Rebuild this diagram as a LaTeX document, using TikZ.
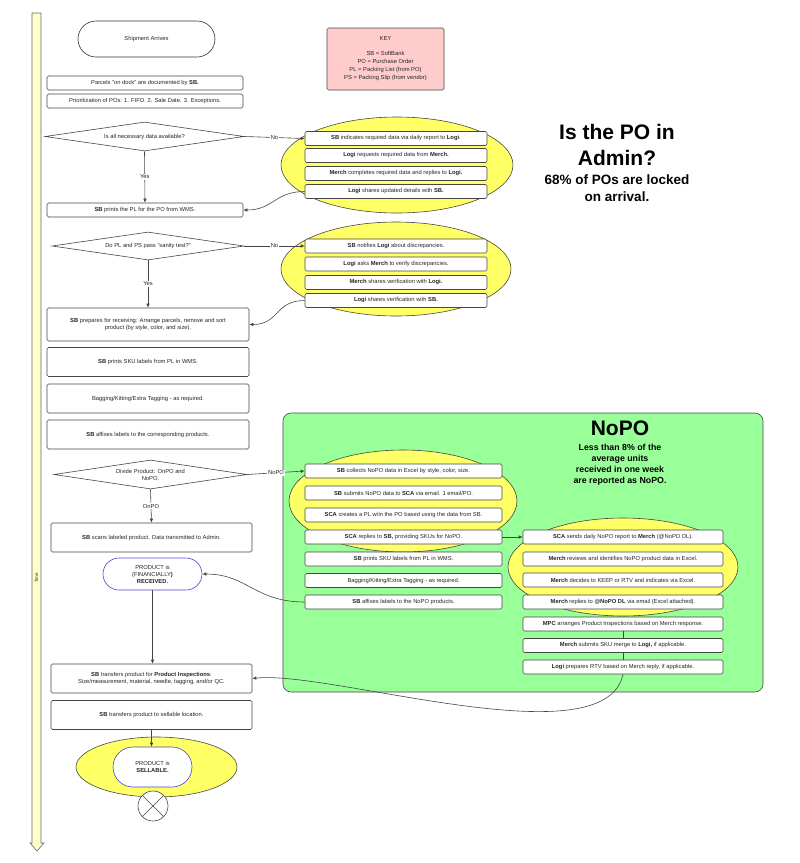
\documentclass[tikz,border=0pt]{standalone}
\usepackage{fontspec}
\setmainfont{Liberation Sans}
\usetikzlibrary{shapes.geometric,shapes.misc,arrows.meta}
\definecolor{keypink}{RGB}{255,204,204}
\definecolor{blobyellow}{RGB}{255,255,102}
\definecolor{nopogreen}{RGB}{153,255,153}
\definecolor{timebar}{RGB}{255,255,204}
\definecolor{edgegray}{RGB}{70,70,70}
\definecolor{termblue}{RGB}{70,70,210}

\begin{document}
\begin{tikzpicture}[x=1pt,y=-1pt,>={Latex[length=4pt,width=3.5pt]},
	every node/.style={font=\fontsize{5.8}{7}\selectfont, text=black!85},
	stepbox/.style={draw=edgegray, fill=white, rounded corners=1.5pt, line width=0.6pt, align=center, inner sep=1pt},
	topbox/.style={stepbox, minimum width=196, minimum height=14},
	tallbox/.style={stepbox, minimum width=202, minimum height=29},
	lowbox/.style={stepbox, minimum width=201, minimum height=29},
	blobbox/.style={stepbox, minimum width=182, minimum height=14},
	nopobox/.style={stepbox, minimum width=197, minimum height=14},
	merchbox/.style={stepbox, minimum width=200, minimum height=14},
	decision/.style={draw=edgegray, fill=white, diamond, aspect=6.9, line width=0.6pt, align=center, inner sep=0pt},
	terminal/.style={draw=#1, fill=white, rounded rectangle, line width=0.6pt, align=center, inner sep=1pt},
	blob/.style={draw=edgegray, fill=blobyellow, line width=0.6pt},
	wire/.style={draw=edgegray, line width=0.6pt},
	answer/.style={fill=white, inner sep=1pt}]
	\useasboundingbox (0,0) rectangle (800,863);

	\draw [draw=black!60, fill=timebar, line width=0.6pt] (32,13) -- (41,13) -- (41,843) -- (44,843) -- (37,851) -- (30,843) -- (32,843) -- cycle;
	\node [rotate=90, font=\fontsize{4.5}{5}\selectfont] (time) at (36.5,578) {Time};

	\draw [draw=edgegray, fill=nopogreen, line width=0.6pt, rounded corners=8pt] (283,413) rectangle (763,692);
	\draw [blob] (397,165) ellipse [x radius=116, y radius=48];
	\draw [blob] (396,269) ellipse [x radius=115, y radius=47];
	\draw [blob] (403,501) ellipse [x radius=114, y radius=51];
	\draw [blob] (623,567) ellipse [x radius=115, y radius=49];
	\draw [blob] (156.5,767) ellipse [x radius=80.5, y radius=30];

	\node [terminal=black!80, minimum width=139, minimum height=36] (ship) at (146.5,39) {Shipment Arrives};
	\node [draw=edgegray, fill=keypink, rounded corners=1.5pt, line width=0.6pt, minimum width=117, minimum height=62, align=center, font=\fontsize{5.8}{8.3}\selectfont] (key) at (385.5,59) {KEY\\[6pt]SB = SoftBank\\PO = Purchase Order\\PL = Packing List (from PO)\\PS = Packing Slip (from vendor)};
	\node [align=center, font=\fontsize{21}{26}\selectfont\bfseries, text=black] (admin) at (617,145) {Is the PO in\\Admin?};
	\node [align=center, font=\fontsize{13.5}{17}\selectfont\bfseries, text=black] (locked) at (617,188.5) {68\% of POs are locked\\on arrival.};
	\node [font=\fontsize{21}{26}\selectfont\bfseries, text=black] (nopo) at (620,428) {NoPO};
	\node [align=center, font=\fontsize{8.8}{11}\selectfont\bfseries, text=black] (share) at (620,464.5) {Less than 8\% of the\\average units\\received in one week\\are reported as NoPO.};

	\node [topbox] (parcels) at (145,83) {Parcels "on dock" are documented by \textbf{SB.}};
	\node [topbox] (prio) at (145,101) {Prioritization of POs: 1. FIFO. 2. Sale Date. 3. Exceptions.};
	\node [decision, minimum width=199, minimum height=29] (data) at (144.5,136.5) {Is all necessary data available?};
	\node [topbox] (pl) at (145,210) {\textbf{SB} prints the PL for the PO from WMS.};

	\node [blobbox] (ask1) at (396,138.5) {\textbf{SB} indicates required data via daily report to \textbf{Logi}.};
	\node [blobbox] (ask2) at (396,155.5) {\textbf{Logi} requests required data from \textbf{Merch.}};
	\node [blobbox] (ask3) at (396,173.5) {\textbf{Merch} completes required data and replies to \textbf{Logi.}};
	\node [blobbox] (ask4) at (396,191.5) {\textbf{Logi} shares updated details with \textbf{SB.}};

	\node [decision, minimum width=192, minimum height=28] (sanity) at (148,246) {Do PL and PS pass "sanity test?"};
	\node [blobbox] (chk1) at (396,246) {\textbf{SB} notifies \textbf{Logi} about discrepancies.};
	\node [blobbox] (chk2) at (396,264) {\textbf{Logi} asks \textbf{Merch} to verify discrepancies.};
	\node [blobbox] (chk3) at (396,282.5) {\textbf{Merch} shares verification with \textbf{Logi.}};
	\node [blobbox] (chk4) at (396,300.5) {\textbf{Logi} shares verification with \textbf{SB.}};

	\node [tallbox, minimum height=33] (prep) at (148,324.5) {\textbf{SB} prepares for receiving: Arrange parcels, remove and sort\\product (by style, color, and size).};
	\node [tallbox] (sku) at (148,362) {\textbf{SB} prints SKU labels from PL in WMS.};
	\node [tallbox] (bag) at (148,398.5) {Bagging/Kitting/Extra Tagging - as required.};
	\node [tallbox] (affix) at (148,434.5) {\textbf{SB} affixes labels to the corresponding products.};

	\node [decision, minimum width=193, minimum height=29] (divide) at (150.5,474.5) {Divide Product: OnPO and\\NoPO.};
	\node [lowbox] (scan) at (151.5,537.5) {\textbf{SB} scans labeled product. Data transmitted to Admin.};
	\node [terminal=termblue, minimum width=101, minimum height=32] (recv) at (152.5,574) {PRODUCT is\\(FINANCIALLY\textbf{)}\\\textbf{RECEIVED.}};
	\node [lowbox] (insp) at (151.5,678.5) {\textbf{SB} transfers product for \textbf{Product Inspections}:\\Size/measurement, material, needle, tagging, and/or QC.};
	\node [lowbox] (move) at (151.5,715) {\textbf{SB} transfers product to sellable location.};
	\node [terminal=termblue, minimum width=81, minimum height=40] (sell) at (152.5,767) {PRODUCT is\\\textbf{SELLABLE.}};
	\node [draw=edgegray, fill=white, circle, line width=0.6pt, minimum size=30] (stop) at (153,806) {};
	\draw [wire] (stop.north west) -- (stop.south east);
	\draw [wire] (stop.north east) -- (stop.south west);

	\node [nopobox] (np1) at (403.5,471) {\textbf{SB} collects NoPO data in Excel by style, color, size.};
	\node [nopobox] (np2) at (403.5,493) {\textbf{SB} submits NoPO data to \textbf{SCA} via email. 1 email/PO.};
	\node [nopobox] (np3) at (403.5,515) {\textbf{SCA} creates a PL w/in the PO based using the data from SB.};
	\node [nopobox] (np4) at (403.5,537) {\textbf{SCA} replies to \textbf{SB,} providing SKUs for NoPO.};
	\node [nopobox] (np5) at (403.5,559) {\textbf{SB} prints SKU labels from PL in WMS.};
	\node [nopobox] (np6) at (403.5,580.5) {Bagging/Kitting/Extra Tagging - as required.};
	\node [nopobox] (np7) at (403.5,602) {\textbf{SB} affixes labels to the NoPO products.};

	\node [merchbox] (mr1) at (623,537) {\textbf{SCA} sends daily NoPO report to \textbf{Merch} (@NoPO DL).};
	\node [merchbox] (mr2) at (623,559) {\textbf{Merch} reviews and identifies NoPO product data in Excel.};
	\node [merchbox] (mr3) at (623,580) {\textbf{Merch} decides to KEEP or RTV and indicates via Excel.};
	\node [merchbox] (mr4) at (623,602) {\textbf{Merch} replies to \textbf{@NoPO DL} via email (Excel attached).};
	\node [merchbox] (mr5) at (623,624) {\textbf{MPC} arranges Product Inspections based on Merch response.};
	\node [merchbox] (mr6) at (623,645.5) {\textbf{Merch} submits SKU merge to \textbf{Logi,} if applicable.};
	\node [merchbox] (mr7) at (623,667) {\textbf{Logi} prepares RTV based on Merch reply, if applicable.};

	\draw [wire, ->] (data.east) -- node [answer] {No} (ask1.west);
	\draw [wire, ->] (data.south) -- node [answer] {Yes} (pl.north);
	\draw [wire, ->] (ask4.west) .. controls +(-30,0) and +(30,0) .. (pl.east);
	\draw [wire, ->] (sanity.east) -- node [answer] {No} (chk1.west);
	\draw [wire, ->] (sanity.south) -- node [answer] {Yes} (prep.north);
	\draw [wire, ->] (chk4.west) .. controls +(-30,0) and +(30,0) .. (prep.east);
	\draw [wire, ->] (divide.east) -- node [answer] {NoPO} (np1.west);
	\draw [wire, ->] (divide.south) -- node [answer] {OnPO} (scan.north);
	\draw [wire, ->] (np4.east) -- (mr1.west);
	\draw [wire, ->] (np7.west) .. controls +(-50,0) and +(45,0) .. (recv.east);
	\draw [wire, ->] (recv.south) -- (recv.south |- insp.north);
	\draw [wire] (mr5.south) -- (mr6.north);
	\draw [wire] (mr6.south) -- (mr7.north);
	\draw [wire, ->] (mr7.south) .. controls (605,760) and (330,670) .. (insp.east);
	\draw [wire, ->] (move.south) -- (move.south |- sell.north);
\end{tikzpicture}
\end{document}
